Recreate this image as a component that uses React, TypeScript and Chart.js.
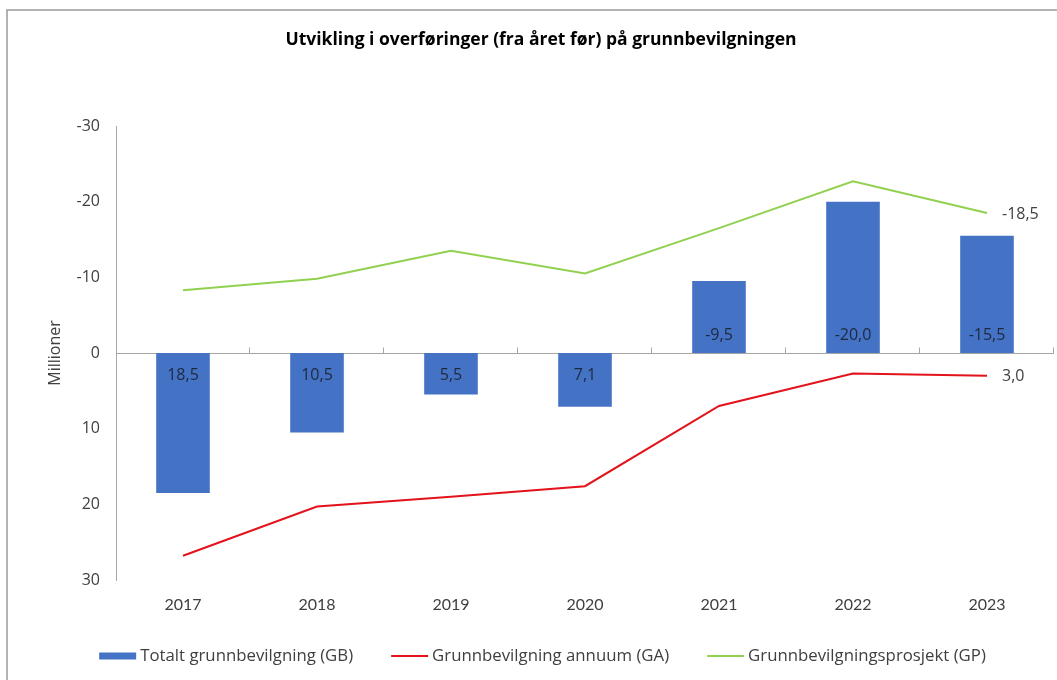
import React, { useEffect, useRef } from 'react';
import { Chart, registerables } from 'chart.js';
Chart.register(...registerables);

const categories = ['2017', '2018', '2019', '2020', '2021', '2022', '2023'];
const totalGB = [18.5, 10.5, 5.5, 7.1, -9.5, -20.0, -15.5];
const annuumGA = [26.8, 20.3, 19.0, 17.6, 7.0, 2.7, 3.0];
const prosjektGP = [-8.3, -9.8, -13.5, -10.5, -16.5, -22.7, -18.5];
const yTickValues = [-30, -20, -10, 0, 10, 20, 30];
const chartTitle = 'Utvikling i overføringer (fra året før) på grunnbevilgningen';
const yAxisTitle = 'Millioner';
const seriesNames = ['Totalt grunnbevilgning (GB)', 'Grunnbevilgning annuum (GA)', 'Grunnbevilgningsprosjekt (GP)'];

const BLUE = '#4472c4';
const RED = '#e3121b';
const GREEN = '#92d050';
const AXIS = '#a6a6a6';
const TEXT = '#404040';
const W = 1082;
const H = 680;

const fmt = (v: number) => v.toFixed(1).replace('.', ',');

const customPlugin = {
  id: 'custom',
  beforeDraw(chart: any) {
    const ctx = chart.ctx;
    ctx.save();
    ctx.fillStyle = '#ffffff';
    ctx.fillRect(0, 0, chart.width, chart.height);
    ctx.strokeStyle = '#9a9a9a';
    ctx.lineWidth = 1.5;
    ctx.strokeRect(7, 10, chart.width + 40, chart.height + 40);
    ctx.restore();
  },
  beforeDatasetsDraw(chart: any) {
    const { ctx, chartArea, scales } = chart;
    const y0 = Math.round(scales.y.getPixelForValue(0)) + 0.5;
    const xs = scales.x;
    const step = xs.getPixelForTick(1) - xs.getPixelForTick(0);
    ctx.save();
    ctx.strokeStyle = AXIS;
    ctx.lineWidth = 1;
    ctx.beginPath();
    ctx.moveTo(chartArea.left, y0);
    ctx.lineTo(chartArea.right, y0);
    for (let i = 0; i < categories.length; i++) {
      const x = Math.round(xs.getPixelForTick(i) + step / 2) - 0.5;
      ctx.moveTo(x, y0);
      ctx.lineTo(x, y0 - 6);
    }
    ctx.stroke();
    // y axis title
    ctx.save();
    ctx.translate(55, (chartArea.top + chartArea.bottom) / 2);
    ctx.rotate(-Math.PI / 2);
    ctx.font = '16px "Open Sans"';
    ctx.fillStyle = TEXT;
    ctx.textAlign = 'center';
    ctx.textBaseline = 'middle';
    ctx.fillText(yAxisTitle, 0, 0);
    ctx.restore();
    ctx.restore();
  },
  afterDatasetsDraw(chart: any) {
    const { ctx, scales } = chart;
    const y0 = scales.y.getPixelForValue(0);
    ctx.save();
    ctx.font = '16px "Open Sans"';
    ctx.textBaseline = 'middle';
    ctx.textAlign = 'center';
    ctx.fillStyle = '#1e2940';
    const barMeta = chart.getDatasetMeta(0);
    barMeta.data.forEach((el: any, i: number) => {
      const v = totalGB[i];
      const y = v > 0 ? y0 + 22 : y0 - 18;
      ctx.fillText(fmt(v), el.x, y);
    });
    ctx.fillStyle = TEXT;
    ctx.textAlign = 'left';
    [1, 2].forEach((di) => {
      const meta = chart.getDatasetMeta(di);
      const pts = meta.data;
      const last = pts[pts.length - 1];
      const vals = di === 1 ? annuumGA : prosjektGP;
      ctx.fillText(fmt(vals[vals.length - 1]), last.x + 15, last.y + 1);
    });
    ctx.restore();
  },
  afterDraw(chart: any) {
    const ctx = chart.ctx;
    ctx.save();
    ctx.font = '16.8px "Open Sans"';
    ctx.fillStyle = TEXT;
    ctx.textBaseline = 'middle';
    ctx.textAlign = 'left';
    const symW = 37;
    const gap = 4;
    const itemGap = 38;
    const colors = [BLUE, RED, GREEN];
    const widths = seriesNames.map((s) => symW + gap + ctx.measureText(s).width);
    const total = widths.reduce((a, b) => a + b, 0) + itemGap * (seriesNames.length - 1);
    let x = chart.width / 2 + 1.5 - total / 2;
    const y = 656;
    seriesNames.forEach((name, i) => {
      if (i === 0) {
        ctx.fillStyle = colors[i];
        ctx.fillRect(x, y - 3.5, symW, 7);
      } else {
        ctx.strokeStyle = colors[i];
        ctx.lineWidth = 2;
        ctx.beginPath();
        ctx.moveTo(x, y);
        ctx.lineTo(x + symW, y);
        ctx.stroke();
      }
      ctx.fillStyle = TEXT;
      ctx.fillText(name, x + symW + gap, y);
      x += widths[i] + itemGap;
    });
    ctx.restore();
  },
};

export default function App() {
  const ref = useRef<HTMLCanvasElement>(null);
  useEffect(() => {
    document.body.style.margin = '0';
    document.body.style.overflow = 'hidden';
    const chart = new Chart(ref.current as HTMLCanvasElement, {
      type: 'bar',
      data: {
        labels: categories,
        datasets: [
          {
            type: 'bar',
            label: seriesNames[0],
            data: totalGB,
            backgroundColor: BLUE,
            categoryPercentage: 1,
            barPercentage: 0.4,
            order: 10,
          },
          {
            type: 'line',
            label: seriesNames[1],
            data: annuumGA,
            borderColor: RED,
            backgroundColor: RED,
            borderWidth: 2,
            pointRadius: 0,
            tension: 0,
            order: 1,
          },
          {
            type: 'line',
            label: seriesNames[2],
            data: prosjektGP,
            borderColor: GREEN,
            backgroundColor: GREEN,
            borderWidth: 2,
            pointRadius: 0,
            tension: 0,
            order: 2,
          },
        ] as any,
      },
      options: {
        responsive: false,
        animation: false,
        devicePixelRatio: 1,
        layout: { padding: { left: 28, right: 28, top: 0, bottom: 50 } },
        plugins: {
          legend: { display: false },
          tooltip: { enabled: false },
          title: {
            display: true,
            text: chartTitle,
            color: '#000000',
            font: { family: 'Open Sans', size: 17.5, weight: 'bold' },
            padding: { top: 30, bottom: 75 },
          },
        },
        scales: {
          x: {
            grid: { display: false, drawTicks: false },
            border: { display: false },
            ticks: { padding: 15, color: TEXT, font: { family: 'Lato', size: 16 } },
            afterFit: (s: any) => {
              s.height = 50;
            },
          },
          y: {
            reverse: true,
            min: -30,
            max: 30,
            grid: { display: false, drawTicks: false },
            border: { display: true, color: AXIS, width: 1 },
            afterBuildTicks: (s: any) => {
              s.ticks = yTickValues.map((v) => ({ value: v }));
            },
            ticks: {
              padding: 16,
              color: TEXT,
              font: { family: 'Open Sans', size: 16 },
              callback: (v: any) => String(v),
            },
            title: { display: false },
            afterFit: (s: any) => {
              s.width = 88;
            },
          },
        },
      } as any,
      plugins: [customPlugin],
    });
    return () => chart.destroy();
  }, []);
  return (
    <div style={{ position: 'fixed', left: 0, top: 0, width: W, height: H }}>
      <canvas ref={ref} width={W} height={H} style={{ width: W, height: H, display: 'block' }} />
    </div>
  );
}
